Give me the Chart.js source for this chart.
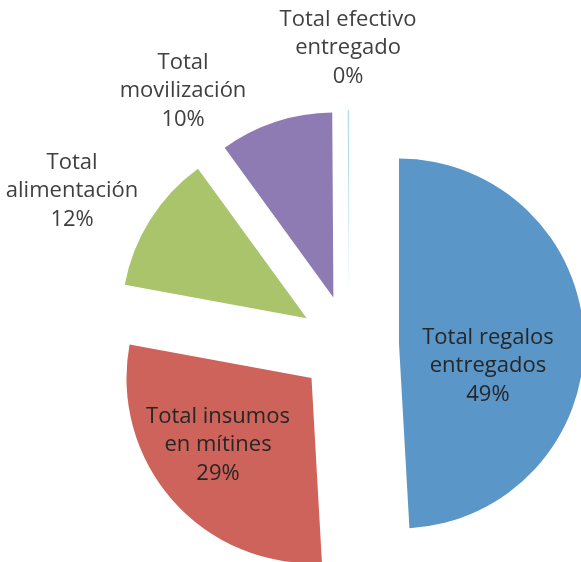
<!DOCTYPE html>
<html>
<head>
<meta charset="utf-8">
<script src="https://cdn.jsdelivr.net/npm/chart.js@4/dist/chart.umd.min.js"></script>
<style>
  html, body { margin: 0; padding: 0; background: #fff; }
  #wrap { width: 581px; height: 562px; }
</style>
</head>
<body>
<div id="wrap"><canvas id="chartOfGastos" width="581" height="562"></canvas></div>
<script>
// categorías (cada una partida en líneas como en el original)
const categories = [
  ["Total regalos", "entregados"],
  ["Total insumos", "en mítines"],
  ["Total", "alimentación"],
  ["Total", "movilización"],
  ["Total efectivo", "entregado"],
];
// porcentajes
const values = [49.1, 28.8, 12.1, 9.9, 0.1];
const colors = ["#5B96C8", "#CD635A", "#A9C46B", "#8F7BB3", "#A8D8E8"];
const textColors = ["#262626", "#262626", "#404040", "#404040", "#404040"];

// posición de cada etiqueta, relativa al centro, en unidades del radio
const labelPos = [
  [0.751, 0.114],
  [-0.708, 0.541],
  [-1.497, -0.832],
  [-0.897, -1.373],
  [-0.005, -1.605],
];

// v4 agranda el radio de cada porción según su ángulo cuando hay offset;
// con circumference = PI/2 ese ajuste vale 0 y sólo queda el desplazamiento
const flatOffset = {
  id: "flatOffset",
  beforeDatasetsDraw(chart) {
    chart.getDatasetMeta(0).data.forEach((arc) => {
      arc.circumference = Math.PI / 2;
    });
  },
};

const sliceLabels = {
  id: "sliceLabels",
  afterDatasetsDraw(chart) {
    const ctx = chart.ctx;
    const meta = chart.getDatasetMeta(0);
    const total = values.reduce((a, b) => a + b, 0);
    meta.data.forEach((arc, i) => {
      const R = arc.outerRadius;
      const x = arc.x + labelPos[i][0] * R;
      const y = arc.y + labelPos[i][1] * R;
      const lines = categories[i].concat([Math.round((values[i] / total) * 100) + "%"]);
      ctx.save();
      ctx.font = "22px 'Open Sans'";
      ctx.fillStyle = textColors[i];
      ctx.textAlign = "center";
      ctx.textBaseline = "middle";
      lines.forEach((t, k) => ctx.fillText(t, x, y + (k - 1) * 28.5));
      ctx.restore();
    });
  },
};

function setupChart() {
  const ctx = document.getElementById("chartOfGastos").getContext("2d");
  new Chart(ctx, {
    type: "pie",
    data: {
      labels: categories,
      datasets: [
        {
          data: values,
          backgroundColor: colors,
          borderWidth: 0,
          offset: 200, // se dibuja offset/4 = 50px
          clip: false,
        },
      ],
    },
    options: {
      responsive: false,
      animation: false,
      radius: 185,
      layout: { padding: { left: 117, right: 0, top: 128, bottom: 0 } },
      plugins: {
        legend: { display: false },
        tooltip: { enabled: false },
      },
      events: [],
    },
    plugins: [flatOffset, sliceLabels],
  });
}

document.addEventListener("DOMContentLoaded", setupChart);
</script>
</body>
</html>
